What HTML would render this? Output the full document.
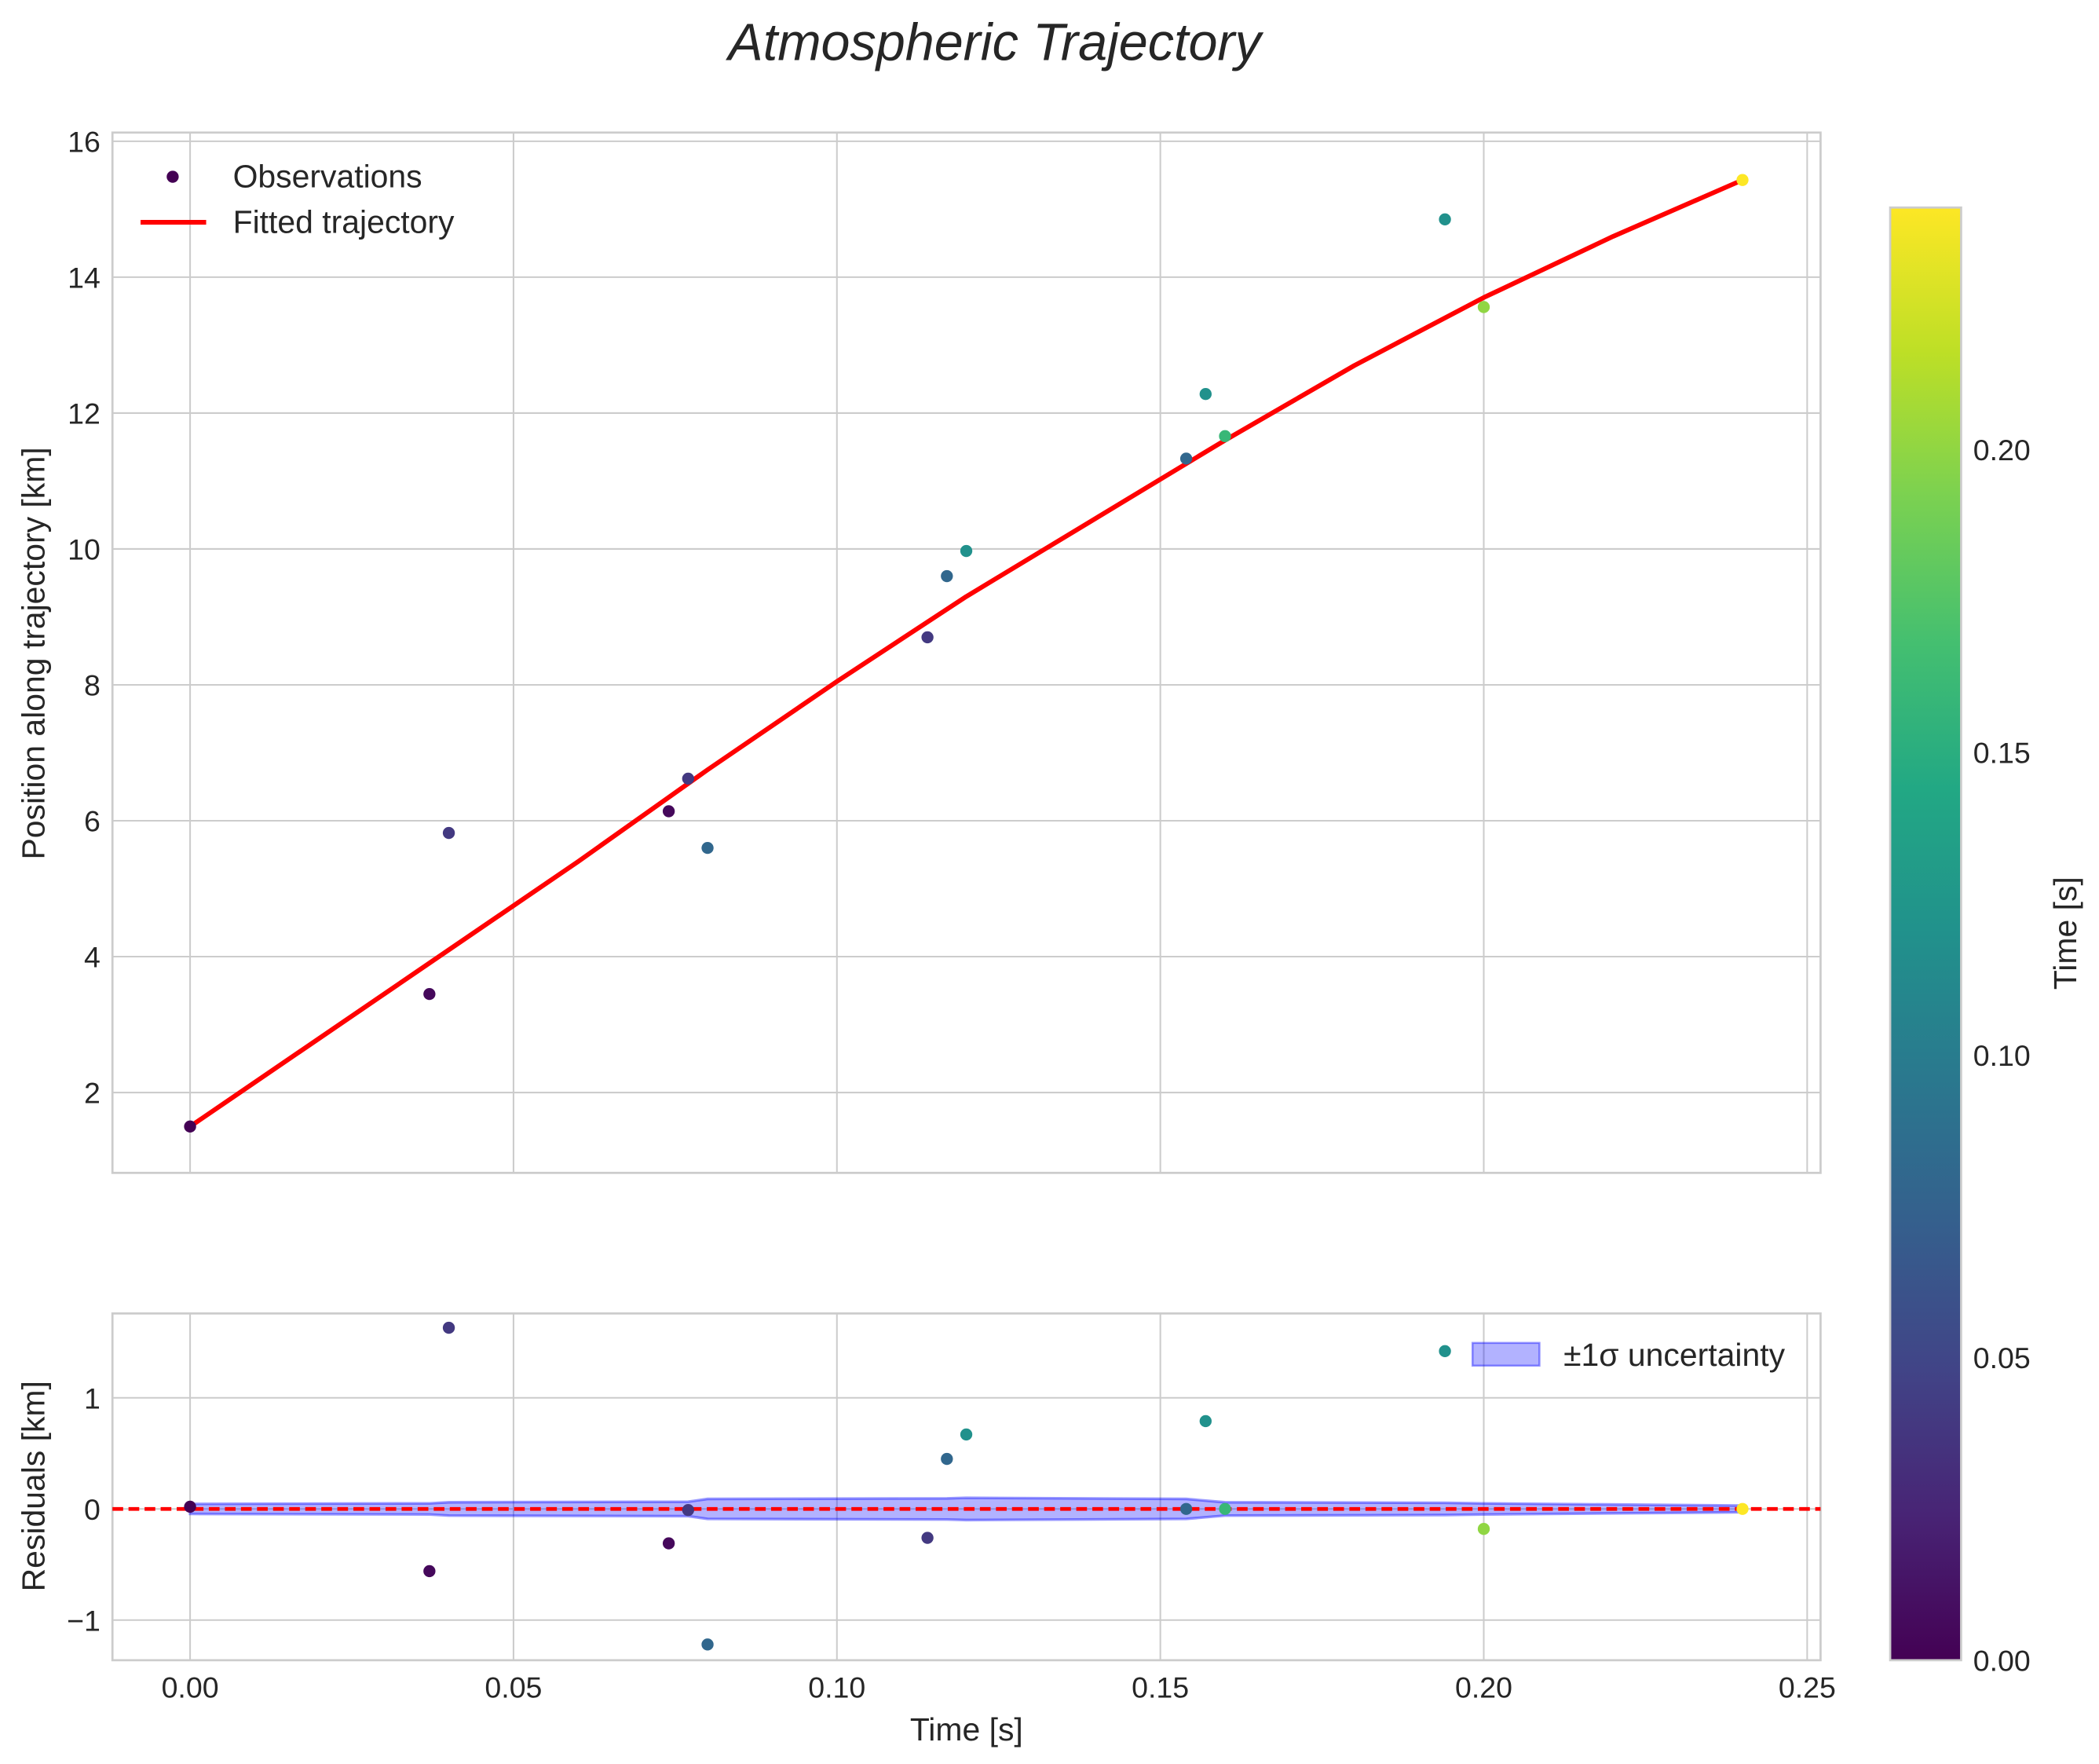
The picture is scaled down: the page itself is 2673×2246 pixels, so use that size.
<!DOCTYPE html>
<html><head><meta charset="utf-8"><style>
html,body{margin:0;padding:0;background:#fff}
svg{display:block}
text{font-family:"Liberation Sans",sans-serif;fill:#262626}
</style></head><body>
<svg id="c" width="2673" height="2246" viewBox="0 0 1568 1317.5" xmlns="http://www.w3.org/2000/svg">
<defs>
<linearGradient id="vir" x1="0" y1="1" x2="0" y2="0">
<stop offset="0" stop-color="#440154"/><stop offset="0.1" stop-color="#482475"/><stop offset="0.2" stop-color="#414487"/><stop offset="0.3" stop-color="#355f8d"/><stop offset="0.4" stop-color="#2a788e"/><stop offset="0.5" stop-color="#21918c"/><stop offset="0.6" stop-color="#22a884"/><stop offset="0.7" stop-color="#44bf70"/><stop offset="0.8" stop-color="#7ad151"/><stop offset="0.9" stop-color="#bddf26"/><stop offset="1" stop-color="#fde725"/>
</linearGradient>
</defs>
<text x="743" y="45" font-size="39" font-style="italic" text-anchor="middle">Atmospheric Trajectory</text>
<g id="topg"></g>
<g id="botg"></g>
<g id="cbg"></g>
</svg>
<script>
const obsT=[0,0.037,0.040,0.074,0.077,0.080,0.114,0.117,0.120,0.154,0.157,0.160,0.194,0.200,0.240];
const obsY=[1.5,3.45,5.82,6.14,6.62,5.6,8.7,9.6,9.97,11.33,12.28,11.66,14.85,13.56,15.43];
const obsC=[0,0.005,0.04,0.005,0.04,0.08,0.04,0.08,0.12,0.08,0.12,0.16,0.12,0.20,0.24];
const resid=[0.02,-0.56,1.63,-0.31,-0.01,-1.22,-0.26,0.45,0.67,0,0.79,0,1.42,-0.18,0];
const fitT=[0,0.02,0.04,0.06,0.08,0.10,0.12,0.14,0.16,0.18,0.20,0.22,0.24];
const fitY=[1.5,2.8,4.1,5.4,6.75,8.05,9.3,10.45,11.6,12.7,13.7,14.6,15.43];
const bandT=[0,0.037,0.04,0.077,0.08,0.117,0.12,0.154,0.16,0.194,0.2,0.24];
const bandW=[0.045,0.05,0.06,0.065,0.09,0.095,0.1,0.09,0.06,0.055,0.05,0.03];
const xTicks=[0,0.05,0.10,0.15,0.20,0.25];
const xTickLabels=["0.00","0.05","0.10","0.15","0.20","0.25"];
const yTicks=[2,4,6,8,10,12,14,16];
const rTicks=[-1,0,1];
const rTickLabels=["\u22121","0","1"];
const cTicks=[0,0.05,0.10,0.15,0.20];
const cTickLabels=["0.00","0.05","0.10","0.15","0.20"];

const NS="http://www.w3.org/2000/svg";
function mk(p,tag,at,txt){const e=document.createElementNS(NS,tag);for(const k in at)e.setAttribute(k,at[k]);if(txt!==undefined)e.textContent=txt;p.appendChild(e);return e;}
const L=84,R=1360;
const X=t=>142+(t/0.25)*(1350-142);
const TY0=99,TY1=876,Y=v=>816-(v-2)*50.75;
const BY0=981,BY1=1240,RY=v=>1127-v*83;
const CB0=155,CB1=1240,CY=v=>CB1-(v/0.24)*(CB1-CB0);
const stops=[[0,[68,1,84]],[0.1,[72,36,117]],[0.2,[65,68,135]],[0.3,[53,95,141]],[0.4,[42,120,142]],[0.5,[33,145,140]],[0.6,[34,168,132]],[0.7,[68,191,112]],[0.8,[122,209,81]],[0.9,[189,223,38]],[1,[253,231,37]]];
function vir(f){f=Math.max(0,Math.min(1,f));for(let i=1;i<stops.length;i++){if(f<=stops[i][0]){const a=stops[i-1],b=stops[i],u=(f-a[0])/(b[0]-a[0]);return 'rgb('+a[1].map((v,j)=>Math.round(v+(b[1][j]-v)*u)).join(',')+')';}}return 'rgb(253,231,37)';}

const gTop=document.getElementById('topg'),gBot=document.getElementById('botg'),gCb=document.getElementById('cbg');
xTicks.forEach((t,i)=>{
 const g=mk(gTop,'line',{x1:X(t),x2:X(t),y1:TY0,y2:TY1,stroke:'#cccccc','stroke-width':1.2});
 
 
 const g2=mk(gBot,'line',{x1:X(t),x2:X(t),y1:BY0,y2:BY1,stroke:'#cccccc','stroke-width':1.2});
 
 
 const lb=mk(gBot,'text',{x:X(t),y:1268,'font-size':22,'text-anchor':'middle'},xTickLabels[i]);
 
 
});
yTicks.forEach(v=>{
 const g=mk(gTop,'line',{x1:L,x2:R,y1:Y(v),y2:Y(v),stroke:'#cccccc','stroke-width':1.2});
 
 
 const lb=mk(gTop,'text',{x:75,y:Y(v)+8,'font-size':22,'text-anchor':'end'},String(v));
 
 
});
const tf=mk(gTop,'rect',{x:L,y:TY0,width:R-L,height:TY1-TY0,fill:'none',stroke:'#cccccc','stroke-width':1.6});


const fl=mk(gTop,'polyline',{points:fitT.map((t,i)=>X(t)+','+Y(fitY[i])).join(' '),fill:'none',stroke:'#ff0000','stroke-width':3.5,'stroke-linejoin':'round'});


obsT.forEach((t,i)=>{
 const c=mk(gTop,'ellipse',{cx:X(t),cy:Y(obsY[i]),rx:4.5,ry:4.5,fill:vir(obsC[i]/0.24)});
 
 
});
const ylab=mk(gTop,'text',{x:0,y:0,'font-size':24,'text-anchor':'middle',transform:'translate(33,488) rotate(-90)'},'Position along trajectory [km]');


const lg=mk(gTop,'g',{});


mk(lg,'circle',{cx:129,cy:132,r:4.5,fill:'#440154'});
mk(lg,'text',{x:174,y:140,'font-size':24},'Observations');
mk(lg,'line',{x1:105,x2:154,y1:166,y2:166,stroke:'#ff0000','stroke-width':3.5});
mk(lg,'text',{x:174,y:174,'font-size':24},'Fitted trajectory');

rTicks.forEach((v,i)=>{
 const g=mk(gBot,'line',{x1:L,x2:R,y1:RY(v),y2:RY(v),stroke:'#cccccc','stroke-width':1.2});
 
 
 const lb=mk(gBot,'text',{x:75,y:RY(v)+8,'font-size':22,'text-anchor':'end'},rTickLabels[i]);
 
 
});
const bf=mk(gBot,'rect',{x:L,y:BY0,width:R-L,height:BY1-BY0,fill:'none',stroke:'#cccccc','stroke-width':1.6});


const up=bandT.map((t,i)=>X(t)+','+RY(bandW[i])),dn=bandT.map((t,i)=>X(t)+','+RY(-bandW[i])).reverse();
const band=mk(gBot,'polygon',{points:up.concat(dn).join(' '),fill:'rgba(0,0,255,0.3)',stroke:'rgba(0,0,255,0.4)','stroke-width':2});


const zl=mk(gBot,'line',{x1:L,x2:R,y1:RY(0),y2:RY(0),stroke:'#ff0000','stroke-width':2.8,'stroke-dasharray':'8,4'});


obsT.forEach((t,i)=>{
 const c=mk(gBot,'ellipse',{cx:X(t),cy:RY(resid[i]),rx:4.5,ry:4.5,fill:vir(obsC[i]/0.24)});
 
 
});
const rl=mk(gBot,'text',{x:0,y:0,'font-size':24,'text-anchor':'middle',transform:'translate(33,1110) rotate(-90)'},'Residuals [km]');


const xl=mk(gBot,'text',{x:722,y:1300,'font-size':24,'text-anchor':'middle'},'Time [s]');


const bl=mk(gBot,'g',{});


mk(bl,'rect',{x:1100,y:1003,width:50,height:17,fill:'rgba(0,0,255,0.3)',stroke:'rgba(0,0,255,0.4)','stroke-width':1.5});
mk(bl,'text',{x:1168,y:1020,'font-size':24},'\u00b11\u03c3 uncertainty');

const cr=mk(gCb,'rect',{x:1412,y:CB0,width:53,height:CB1-CB0,fill:'url(#vir)',stroke:'#cccccc','stroke-width':1.6});


cTicks.forEach((v,i)=>{
 const lb=mk(gCb,'text',{x:1474,y:CY(v)+8,'font-size':22},cTickLabels[i]);
 
 
});
const cl=mk(gCb,'text',{x:0,y:0,'font-size':24,'text-anchor':'middle',transform:'translate(1551,697) rotate(-90)'},'Time [s]');


</script>
</body></html>
